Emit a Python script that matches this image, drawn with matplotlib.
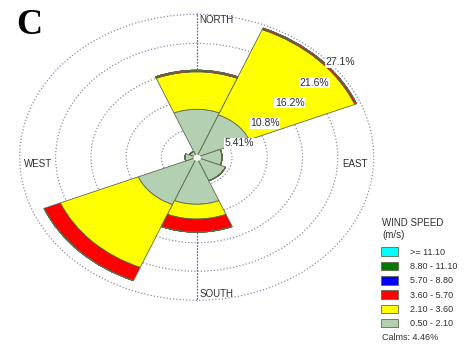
import numpy as np
import matplotlib
matplotlib.use("Agg")
import matplotlib.pyplot as plt

plt.rcParams['font.family'] = ['Liberation Sans', 'DejaVu Sans']

# ---- data -------------------------------------------------------------
directions = ["N", "NE", "E", "SE", "S", "SW", "W", "NW"]
dir_angles_deg = [0, 45, 90, 135, 180, 225, 270, 315]
speed_bins = ["0.50 - 2.10", "2.10 - 3.60", "3.60 - 5.70",
              "5.70 - 8.80", "8.80 - 11.10", ">= 11.10"]
bin_colors = ["#b4d0b2", "#ffff00", "#ff0000", "#0000ff", "#007a00", "#00ffff"]
# frequency (%) of each speed class per direction
freq_050_210 = [9.1, 8.7, 3.9, 4.8, 8.9, 9.7, 1.8, 1.2]
freq_210_360 = [7.1, 17.5, 0.0, 0.0, 2.8, 12.9, 0.0, 0.0]
freq_360_570 = [0.3, 0.3, 0.0, 0.0, 2.5, 2.7, 0.0, 0.0]
freq_570_880 = [0.0] * 8
freq_880_1110 = [0.0] * 8
freq_ge_1110 = [0.0] * 8
ring_values = [5.41, 10.8, 16.2, 21.6, 27.1]
ring_labels = ["5.41%", "10.8%", "16.2%", "21.6%", "27.1%"]
legend_title = ["WIND SPEED", "(m/s)"]
calms = "Calms: 4.46%"
panel_letter = "C"
# ----------------------------------------------------------------------

series = [freq_050_210, freq_210_360, freq_360_570,
          freq_570_880, freq_880_1110, freq_ge_1110]

W, H = 467, 347
fig = plt.figure(figsize=(W / 100, H / 100), dpi=100)

cx, cy = 196.7, 157.3          # centre in pixels (from top-left)
rx, ry = 177.0, 143.0          # pixel radius of the outer ring
rmax = 27.35
hw = rx * rmax / ring_values[-1]
hh = ry * rmax / ring_values[-1]
ax = fig.add_axes([(cx - hw) / W, (H - cy - hh) / H, 2 * hw / W, 2 * hh / H],
                  projection='polar')
ax.set_aspect('auto')
ax.set_theta_zero_location('N')
ax.set_theta_direction(-1)
ax.set_ylim(0, rmax)
ax.spines['polar'].set_visible(False)
ax.set_facecolor('none')

theta = np.deg2rad(dir_angles_deg)
width = np.deg2rad(45)
bottom = np.zeros(len(directions))
containers = []
for vals, col in zip(series, bin_colors):
    vals = np.array(vals)
    c = ax.bar(theta, vals, width=width, bottom=bottom, color=col,
               edgecolor='#5d6b4c', linewidth=0.6, zorder=2)
    containers.append(c)
    bottom = bottom + vals

# centre hole
tt = np.linspace(0, 2 * np.pi, 100)
ax.fill_between(tt, 0, 0.45, color='white', zorder=3)

# grid
ax.set_rgrids(ring_values, labels=[""] * len(ring_values))
ax.set_thetagrids([0, 180], labels=["", ""])
for gl in ax.yaxis.get_gridlines():
    gl.set_color('#8c90ac')
    gl.set_linestyle((0, (1, 1.6)))
    gl.set_linewidth(0.9)
for gl in ax.xaxis.get_gridlines():
    gl.set_color('#6a6e8e')
    gl.set_linestyle((0, (1.5, 1)))
    gl.set_linewidth(0.9)
ax.set_axisbelow(True)
ax.tick_params(length=0)

# ring labels
for rv, rl in zip(ring_values, ring_labels):
    ax.annotate(rl, xy=(np.pi / 4, rv), xytext=(18, -6),
                textcoords='offset pixels', ha='center', va='center',
                fontsize=7.5, color='#303030', zorder=5,
                bbox=dict(boxstyle='square,pad=0.05', fc='white', ec='none'))

# direction labels
lab_kw = dict(textcoords='offset pixels', fontsize=7, color='#303030',
              va='center')
ax.annotate("NORTH", xy=(0, 26.0), xytext=(3, 0), ha='left', **lab_kw)
ax.annotate("SOUTH", xy=(np.pi, 26.0), xytext=(3, 0), ha='left', **lab_kw)
ax.annotate("EAST", xy=(np.pi / 2, 24.3), xytext=(0, -7), ha='center', **lab_kw)
ax.annotate("WEST", xy=(3 * np.pi / 2, 24.3), xytext=(0, -7), ha='center', **lab_kw)

# panel letter
fig.text(29 / W, 1 - 25 / H, panel_letter, family='Liberation Serif',
         fontweight='bold', fontsize=26, ha='center', va='center')

# legend
fig.text(382 / W, 1 - 223 / H, legend_title[0], fontsize=7, color='#303030',
         ha='left', va='center')
fig.text(382 / W, 1 - 235 / H, legend_title[1], fontsize=7, color='#303030',
         ha='left', va='center')
leg = fig.legend(containers[::-1], speed_bins[::-1], loc='upper left',
                 bbox_to_anchor=(381 / W, 1 - 247.5 / H), frameon=False,
                 fontsize=6.5, borderpad=0,
                 borderaxespad=0, handlelength=1.9, handleheight=1.05,
                 handletextpad=1.3, labelspacing=0.56)
for t in leg.get_texts():
    t.set_color('#303030')
fig.text(382 / W, 1 - 338 / H, calms, fontsize=6.5, color='#303030',
         ha='left', va='center')

fig.savefig("out.png", dpi=100)
